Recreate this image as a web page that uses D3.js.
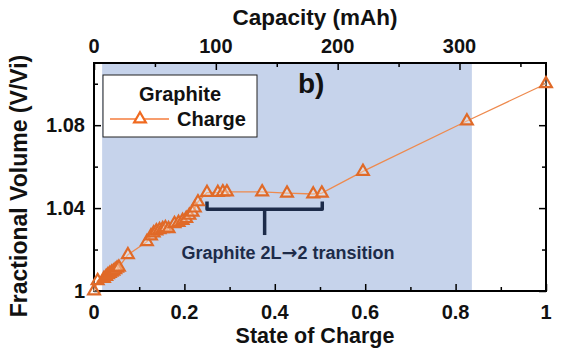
<!DOCTYPE html>
<html><head><meta charset="utf-8">
<script src="https://cdn.jsdelivr.net/npm/d3@7"></script>
<style>body{margin:0;background:#fff}svg text{font-family:"Liberation Sans",Arial,sans-serif;font-weight:bold}</style>
</head><body><svg id="c" width="574" height="348"></svg>
<script>
const soc = [0.000,0.008,0.022,0.027,0.031,0.035,0.039,0.043,0.047,0.051,0.055,0.075,0.117,0.126,0.132,0.138,0.145,0.152,0.158,0.165,0.178,0.187,0.196,0.204,0.211,0.218,0.223,0.230,0.250,0.274,0.285,0.294,0.372,0.427,0.485,0.504,0.595,0.825,1.000];
const fracVol = [1.0000,1.0050,1.0060,1.0070,1.0078,1.0085,1.0090,1.0095,1.0102,1.0110,1.0115,1.0175,1.0238,1.0265,1.0280,1.0290,1.0295,1.0300,1.0305,1.0300,1.0325,1.0330,1.0340,1.0350,1.0365,1.0380,1.0400,1.0430,1.0475,1.0475,1.0478,1.0478,1.0478,1.0472,1.0468,1.0472,1.0577,1.0820,1.1000];
const socTicks = [0,0.2,0.4,0.6,0.8,1];
const socTickLabels = ["0","0.2","0.4","0.6","0.8","1"];
const capTicks = [0,100,200,300];
const fvTicks = [1,1.04,1.08];
const fvTickLabels = ["1","1.04","1.08"];
const shadeRange = [0.018,0.836];
const bracketX = [0.25,0.505];
const bracketY = [1.0432,1.0395,1.027];

const svg = d3.select("#c");
const m = {l:94,r:28,t:63,b:57};
const W = 574, H = 348;
const x = d3.scaleLinear().domain([0,1]).range([m.l, W-m.r]);
const xc = d3.scaleLinear().domain([0,371]).range([m.l, W-m.r]);
const y = d3.scaleLinear().domain([1,1.11]).range([H-m.b, m.t]);

// shade
svg.append("rect").attr("x",x(shadeRange[0])).attr("y",y(1.11))
  .attr("width",x(shadeRange[1])-x(shadeRange[0])).attr("height",y(1)-y(1.11))
  .attr("fill","#c6d3eb");

function styleAxis(g){ g.select(".domain").remove(); g.selectAll("line").attr("stroke","#000").attr("stroke-width",1.5); }
const botAx = svg.append("g").attr("transform",`translate(0,${y(1)})`)
  .call(d3.axisBottom(x).tickValues(d3.range(0,1.01,0.1)).tickSize(-6).tickFormat(()=>""));
botAx.selectAll(".tick line").attr("y2",(d,i)=>i%2===0?-7:-4);
styleAxis(botAx);
svg.append("g").selectAll("text").data(socTicks).join("text").attr("x",d=>x(d)).attr("y",319)
  .attr("text-anchor","middle").attr("font-size",20).attr("fill","#111").text((d,i)=>socTickLabels[i]);

const topAx = svg.append("g").attr("transform",`translate(0,${y(1.11)})`)
  .call(d3.axisTop(xc).tickValues(d3.range(0,371,50)).tickSize(-6).tickFormat(()=>""));
topAx.selectAll(".tick line").attr("y2",(d)=>d%100===0?7:4);
styleAxis(topAx);
svg.append("g").selectAll("text").data(capTicks).join("text").attr("x",d=>xc(d)).attr("y",53)
  .attr("text-anchor","middle").attr("font-size",20).attr("fill","#111").text(d=>d);

const leftAx = svg.append("g").attr("transform",`translate(${m.l},0)`)
  .call(d3.axisLeft(y).tickValues([1,1.02,1.04,1.06,1.08,1.10]).tickSize(-6).tickFormat(()=>""));
leftAx.selectAll(".tick line").attr("x2",(d,i)=>i%2===0?7:4);
styleAxis(leftAx);
svg.append("g").selectAll("text").data(fvTicks).join("text").attr("x",85).attr("y",d=>y(d)).attr("dy","0.36em")
  .attr("text-anchor","end").attr("font-size",20).attr("fill","#111").text((d,i)=>fvTickLabels[i]);
const rightAx = svg.append("g").attr("transform",`translate(${W-m.r},0)`)
  .call(d3.axisRight(y).tickValues([1,1.02,1.04,1.06,1.08,1.10]).tickSize(-6).tickFormat(()=>""));
rightAx.selectAll(".tick line").attr("x2",(d,i)=>i%2===0?-7:-4);
styleAxis(rightAx);

svg.append("rect").attr("x",m.l).attr("y",m.t).attr("width",W-m.l-m.r).attr("height",H-m.t-m.b)
  .attr("fill","none").attr("stroke","#000").attr("stroke-width",2);

// titles
svg.append("text").attr("x",315).attr("y",25).attr("text-anchor","middle").attr("font-size",22.5).attr("fill","#111").text("Capacity (mAh)");
svg.append("text").attr("x",315).attr("y",343).attr("text-anchor","middle").attr("font-size",21.5).attr("fill","#111").text("State of Charge");
svg.append("text").attr("transform","translate(27,186) rotate(-90)").attr("text-anchor","middle").attr("font-size",23).attr("fill","#111").text("Fractional Volume (V/Vi)");
svg.append("text").attr("x",298).attr("y",93).attr("font-size",28).attr("fill","#111").text("b)");

// bracket
const bp = [[bracketX[0],bracketY[0]],[bracketX[0],bracketY[1]],[bracketX[1],bracketY[1]],[bracketX[1],bracketY[0]]];
svg.append("path").attr("d",d3.line().x(d=>x(d[0])).y(d=>y(d[1]))(bp)).attr("fill","none").attr("stroke","#1d2b49").attr("stroke-width",3.5).attr("stroke-linejoin","round");
const mid=(bracketX[0]+bracketX[1])/2;
svg.append("line").attr("x1",x(mid)).attr("x2",x(mid)).attr("y1",y(bracketY[1])).attr("y2",y(bracketY[2])).attr("stroke","#1d2b49").attr("stroke-width",3.5);
const ann = svg.append("text").attr("x",288).attr("y",259).attr("text-anchor","middle").attr("font-size",18).attr("fill","#1d2b49");
ann.append("tspan").text("Graphite 2L");
ann.append("tspan").style("font-family","'DejaVu Sans'").attr("font-size",19).text("\u2192");
ann.append("tspan").text("2 transition");

// data
const pts = soc.map((s,i)=>[s,fracVol[i]]);
svg.append("path").attr("d",d3.line().x(d=>x(d[0])).y(d=>y(d[1]))(pts)).attr("fill","none").attr("stroke","#ee8a4e").attr("stroke-width",1.3);
const tri = d3.symbol().type(d3.symbolTriangle).size(60);
svg.append("g").selectAll("path").data(pts).join("path").attr("d",tri)
  .attr("transform",d=>`translate(${x(d[0])},${y(d[1])})`)
  .attr("fill","rgba(255,240,225,0.35)").attr("stroke","#e06a28").attr("stroke-width",2.2);

// legend
const lg = svg.append("g");
lg.append("rect").attr("x",103).attr("y",75).attr("width",154).attr("height",62).attr("fill","#fff").attr("stroke","#222").attr("stroke-width",1);
lg.append("text").attr("x",180).attr("y",101).attr("text-anchor","middle").attr("font-size",20).attr("fill","#111").text("Graphite");
lg.append("line").attr("x1",110).attr("x2",169).attr("y1",119).attr("y2",119).attr("stroke","#f47c3c").attr("stroke-width",1.3);
lg.append("path").attr("d",tri).attr("transform","translate(140,119)").attr("fill","#fff").attr("stroke","#f06a20").attr("stroke-width",2.2);
lg.append("text").attr("x",177).attr("y",126).attr("font-size",20).attr("fill","#111").text("Charge");
</script></body></html>
